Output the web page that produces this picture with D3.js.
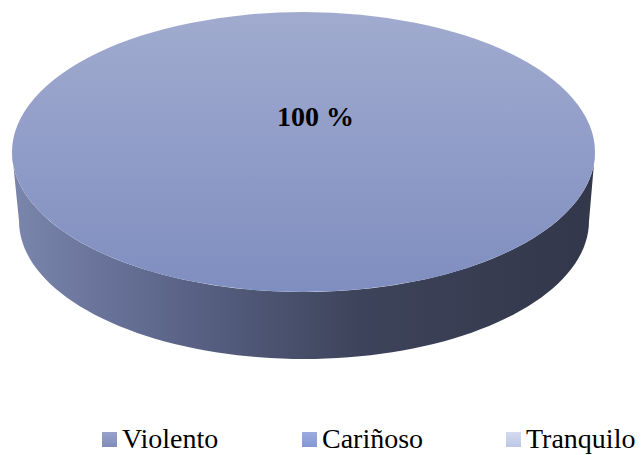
<!DOCTYPE html>
<html>
<head>
<meta charset="utf-8">
<script src="https://cdn.jsdelivr.net/npm/d3@7"></script>
<style>
  body { margin: 0; background: #fff; }
  text { font-family: "Liberation Serif", "Times New Roman", serif; }
</style>
</head>
<body>
<svg width="644" height="455"></svg>
<script>
var categories = ["Violento", "Cariñoso", "Tranquilo"];
var values = [0, 100, 0];
var labels = ["", "100 %", ""];
var legendTop = ["#98a2ca", "#9cace0", "#d4dbef"];
var legendBottom = ["#808cba", "#8497d2", "#bdc7e5"];

var svg = d3.select("svg");
var defs = svg.append("defs");

// pie geometry (top ellipse + bottom ellipse for the rim)
var topE = { cx: 303.5, cy: 152, rx: 291.5, ry: 140 };
var botE = { cx: 304, cy: 221, rx: 285, ry: 138 };

var gTop = defs.append("linearGradient").attr("id", "gTop")
  .attr("x1", 0).attr("y1", 0).attr("x2", 0).attr("y2", 1);
gTop.append("stop").attr("offset", 0).attr("stop-color", "#a1abcf");
gTop.append("stop").attr("offset", 1).attr("stop-color", "#7f8ec0");

var gSide = defs.append("linearGradient").attr("id", "gSide")
  .attr("gradientUnits", "userSpaceOnUse")
  .attr("x1", topE.cx - topE.rx).attr("y1", 0)
  .attr("x2", topE.cx + topE.rx).attr("y2", 0);
[[0, "#7b86ac"], [0.15, "#6a749b"], [0.35, "#545d7e"], [0.6, "#3d435a"], [1, "#32374a"]]
  .forEach(function(s) {
    gSide.append("stop").attr("offset", s[0]).attr("stop-color", s[1]);
  });

categories.forEach(function(c, i) {
  var lg = defs.append("linearGradient").attr("id", "lg" + i)
    .attr("x1", 0).attr("y1", 0).attr("x2", 0).attr("y2", 1);
  lg.append("stop").attr("offset", 0).attr("stop-color", legendTop[i]);
  lg.append("stop").attr("offset", 1).attr("stop-color", legendBottom[i]);
});

var pie = d3.pie().sort(null).value(function(d) { return d; });
var arcs = pie(values).filter(function(d) { return d.value > 0; });

function pt(e, a) {
  return [e.cx + Math.sin(a) * e.rx, e.cy - Math.cos(a) * e.ry];
}

// side of each slice: only the part facing the viewer
function sidePath(d) {
  var a0 = Math.max(d.startAngle, Math.PI / 2);
  var a1 = Math.min(d.endAngle, 3 * Math.PI / 2);
  if (a1 <= a0) return null;
  var n = 80, p = [], i;
  for (i = 0; i <= n; i++) p.push(pt(topE, a0 + (a1 - a0) * i / n));
  for (i = n; i >= 0; i--) p.push(pt(botE, a0 + (a1 - a0) * i / n));
  return d3.line()(p) + "Z";
}

svg.selectAll("path.side")
  .data(arcs)
  .enter()
  .append("path")
  .attr("class", "side")
  .attr("d", sidePath)
  .style("fill", "url(#gSide)");

var arc = d3.arc().innerRadius(0).outerRadius(topE.rx);

svg.append("g")
  .attr("transform", "translate(" + topE.cx + "," + topE.cy + ") scale(1," + topE.ry / topE.rx + ")")
  .selectAll("path.slice")
  .data(arcs)
  .enter()
  .append("path")
  .attr("class", "slice")
  .attr("d", arc)
  .style("fill", "url(#gTop)");

// data label
svg.selectAll("text.lbl")
  .data(arcs)
  .enter()
  .append("text")
  .attr("class", "lbl")
  .attr("x", topE.cx + 12)
  .attr("y", 126)
  .attr("text-anchor", "middle")
  .style("font-size", "28px")
  .style("font-weight", "bold")
  .text(function(d) { return labels[d.index]; });

// legend
var legend = { x: [102, 302, 506], y: 432, size: 15 };

svg.selectAll("rect.key")
  .data(categories)
  .enter()
  .append("rect")
  .attr("class", "key")
  .attr("x", function(d, i) { return legend.x[i]; })
  .attr("y", legend.y)
  .attr("width", legend.size)
  .attr("height", legend.size)
  .style("fill", function(d, i) { return "url(#lg" + i + ")"; });

svg.selectAll("text.key")
  .data(categories)
  .enter()
  .append("text")
  .attr("class", "key")
  .attr("x", function(d, i) { return legend.x[i] + 20; })
  .attr("y", 448)
  .style("font-size", "28px")
  .style("fill", "#000")
  .text(function(d) { return d; });
</script>
</body>
</html>
